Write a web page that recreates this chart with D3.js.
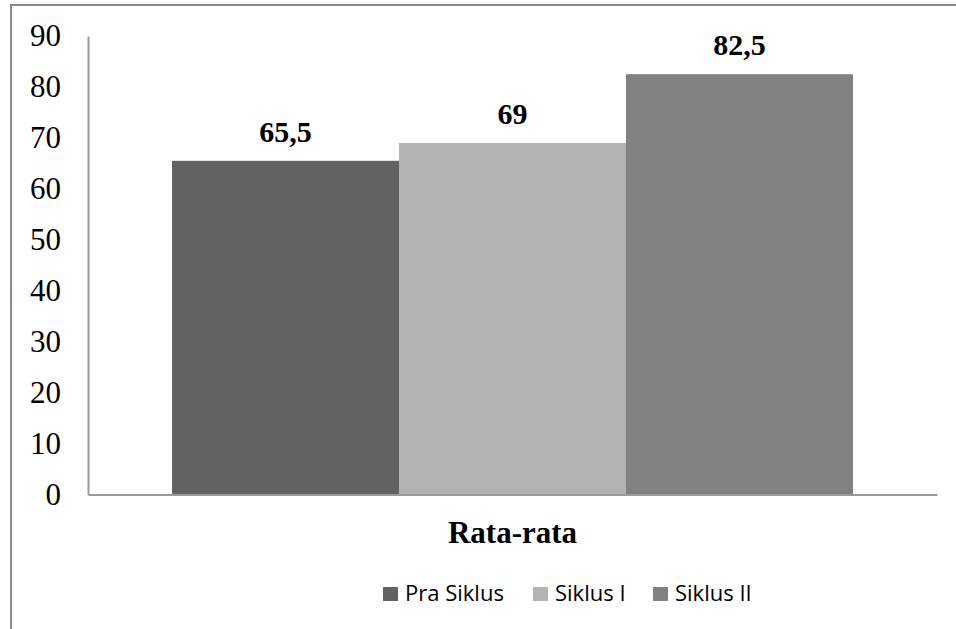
<!DOCTYPE html>
<html>
<head>
<meta charset="utf-8">
<script src="https://cdn.jsdelivr.net/npm/d3@7/dist/d3.min.js"></script>
<style>
  html, body { margin: 0; padding: 0; background: #fff; }
  svg { display: block; }
</style>
</head>
<body>
<svg id="chart" width="956" height="629"></svg>
<script>
// Average score per cycle
const category = "Rata-rata";
const seriesNames = ["Pra Siklus", "Siklus I", "Siklus II"];
const seriesValues = [65.5, 69, 82.5];
const valueLabels = ["65,5", "69", "82,5"];
const yTicks = [0, 10, 20, 30, 40, 50, 60, 70, 80, 90];
const seriesColors = ["#626262", "#b3b3b3", "#818181"];

const svg = d3.select("#chart");
const W = 956, H = 629;
const plot = { left: 88, right: 937, top: 36, bottom: 494.5 };

// Outer frame (left and top edges visible)
svg.append("line").attr("x1", 11).attr("x2", W).attr("y1", 5).attr("y2", 5)
  .attr("stroke", "#8a8a8a").attr("stroke-width", 2);
svg.append("line").attr("x1", 11).attr("x2", 11).attr("y1", 4).attr("y2", H)
  .attr("stroke", "#8a8a8a").attr("stroke-width", 2);

const y = d3.scaleLinear().domain([0, 90]).range([plot.bottom, plot.top]);
const x0 = d3.scaleBand().domain([category]).range([plot.left, plot.right])
  .paddingInner(0).paddingOuter(0.1234);
const x1 = d3.scaleBand().domain(seriesNames).range([0, x0.bandwidth()]).padding(0);

// Bars
const g = svg.append("g").attr("transform", `translate(${x0(category)},0)`);
g.selectAll("rect.bar").data(seriesValues).join("rect")
  .attr("class", "bar")
  .attr("x", (d, i) => x1(seriesNames[i]))
  .attr("width", x1.bandwidth())
  .attr("y", d => y(d))
  .attr("height", d => y(0) - y(d))
  .attr("fill", (d, i) => seriesColors[i]);

// Value labels
g.selectAll("text.val").data(seriesValues).join("text")
  .attr("class", "val")
  .attr("x", (d, i) => x1(seriesNames[i]) + x1.bandwidth() / 2)
  .attr("y", d => y(d) - 19)
  .attr("text-anchor", "middle")
  .attr("font-family", "'Liberation Serif', 'Times New Roman', serif")
  .attr("font-weight", "bold")
  .attr("font-size", 30)
  .attr("fill", "#000")
  .text((d, i) => valueLabels[i]);

// Y axis
const yAxis = d3.axisLeft(y).tickValues(yTicks).tickSize(0).tickPadding(27)
  .tickFormat(d3.format("d"));
const ya = svg.append("g").attr("transform", `translate(${plot.left},0)`).call(yAxis);
ya.select(".domain").attr("stroke", "#9a9a9a").attr("stroke-width", 2);
ya.selectAll("text")
  .attr("font-family", "'Liberation Serif', 'Times New Roman', serif")
  .attr("font-size", 31)
  .attr("fill", "#000");

// X axis
const xAxis = d3.axisBottom(x0).tickSize(0).tickFormat(() => "");
const xa = svg.append("g").attr("transform", `translate(0,${plot.bottom})`).call(xAxis);
xa.select(".domain").attr("stroke", "#9a9a9a").attr("stroke-width", 2);

// Category label
svg.append("text")
  .attr("x", x0(category) + x0.bandwidth() / 2)
  .attr("y", 543)
  .attr("text-anchor", "middle")
  .attr("font-family", "'Liberation Serif', 'Times New Roman', serif")
  .attr("font-weight", "bold")
  .attr("font-size", 31)
  .text(category);

// Legend
const legendX = [383, 533, 653];
const lg = svg.append("g");
seriesNames.forEach((name, i) => {
  lg.append("rect").attr("x", legendX[i]).attr("y", 587).attr("width", 15).attr("height", 14)
    .attr("fill", seriesColors[i]);
  lg.append("text").attr("x", legendX[i] + 22).attr("y", 601)
    .attr("font-family", "'Open Sans', sans-serif")
    .attr("font-size", 22)
    .attr("fill", "#000")
    .text(name);
});
</script>
</body>
</html>
